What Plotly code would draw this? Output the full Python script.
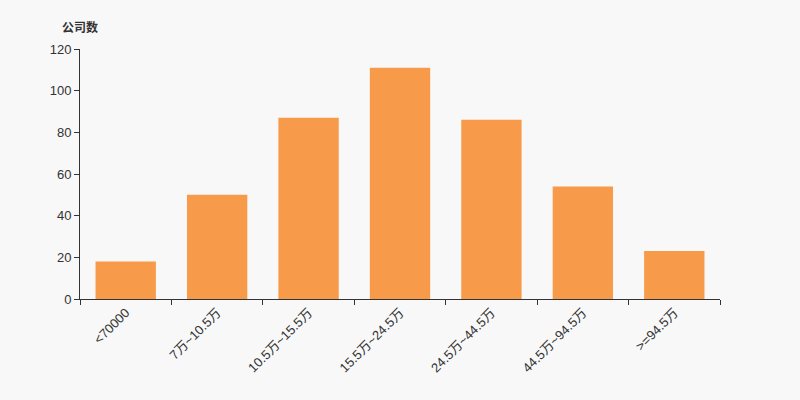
import plotly.graph_objects as go

categories = ["<70000", "7万~10.5万", "10.5万~15.5万", "15.5万~24.5万", "24.5万~44.5万", "44.5万~94.5万", ">=94.5万"]
values = [18, 50, 87, 111, 86, 54, 23]
y_title = "公司数"

FONT = "Liberation Sans, Noto Sans CJK SC, sans-serif"

fig = go.Figure(go.Bar(
    x=categories, y=values,
    marker=dict(color="#F79A4A", line=dict(width=0)),
    width=0.66,
))

fig.update_layout(
    width=800, height=400,
    paper_bgcolor="#F8F8F8", plot_bgcolor="#F8F8F8",
    margin=dict(l=80, r=80, t=49, b=101),
    font=dict(family=FONT, size=13, color="#333333"),
    showlegend=False,
    xaxis=dict(
        type="category", tickson="boundaries", ticks="outside", ticklen=5,
        tickcolor="#333333", showline=True, linecolor="#333333", linewidth=1,
        showgrid=False, tickangle=-45, tickfont=dict(size=13, color="#333333"),
        range=[-0.5, 6.5],
    ),
    yaxis=dict(
        range=[0, 120], dtick=20, ticks="outside", ticklen=5, tickcolor="#333333",
        showline=True, linecolor="#333333", linewidth=1, showgrid=False,
        zeroline=False, tickfont=dict(size=13, color="#333333"),
    ),
    annotations=[dict(
        text="<b>" + y_title + "</b>", xref="x domain", yref="y domain",
        x=0, y=1, yshift=22, xanchor="center", yanchor="middle",
        showarrow=False, font=dict(size=12, color="#333333"),
    )],
)

fig.write_html(
    "out.html",
    config={"displayModeBar": False},
    post_script="document.body.style.margin='0';document.body.style.background='#F8F8F8';",
)
